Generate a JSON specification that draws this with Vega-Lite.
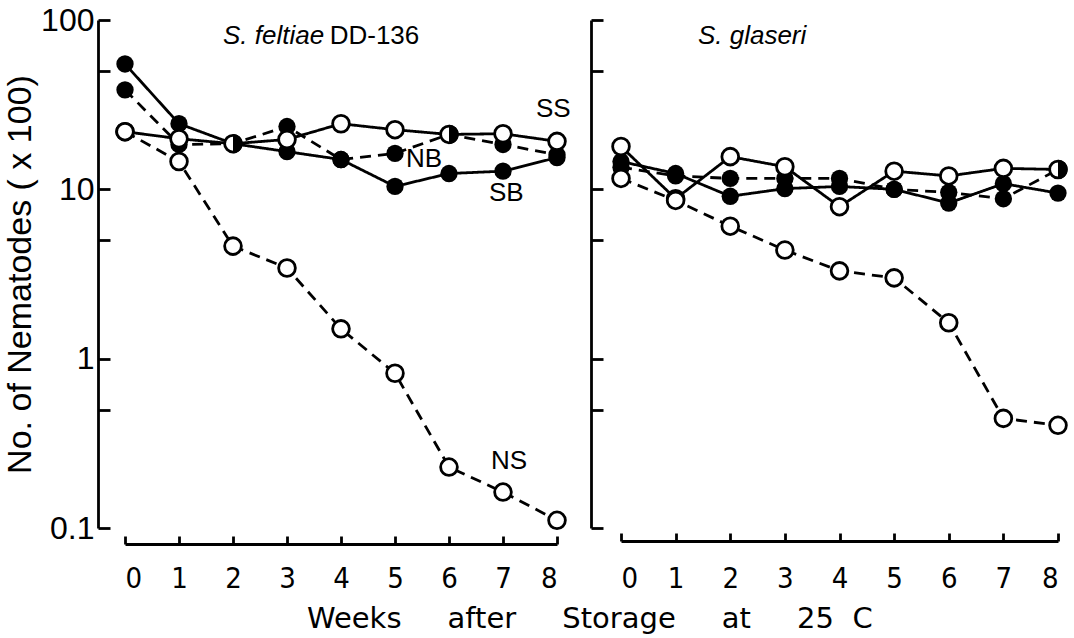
{
  "$schema": "https://vega.github.io/schema/vega-lite/v6.json",
  "background": "white",
  "padding": {"top": 4, "left": 3, "right": 4, "bottom": 4},
  "bounds": "flush",
  "spacing": 64,
  "config": {
    "view": {"stroke": null},
    "font": "Liberation Sans",
    "axis": {"grid": false, "domainColor": "black", "domainWidth": 2.8, "tickColor": "black", "tickWidth": 2.8, "labelColor": "black", "titleColor": "black"}
  },
  "title": {
    "text": "Weeks\u00a0\u00a0\u00a0\u00a0\u00a0after\u00a0\u00a0\u00a0\u00a0\u00a0Storage\u00a0\u00a0\u00a0\u00a0\u00a0at\u00a0\u00a0\u00a0\u00a0\u00a025\u00a0\u00a0C",
    "orient": "bottom",
    "anchor": "middle",
    "font": "DejaVu Sans",
    "fontSize": 29,
    "fontWeight": "normal",
    "color": "black",
    "offset": 12,
    "dx": 52
  },
  "datasets": {
    "counts": [
      {"species": "S. feltiae DD-136", "treatment": "SS", "week": 0, "value": 21.9},
      {"species": "S. feltiae DD-136", "treatment": "SS", "week": 1, "value": 19.9},
      {"species": "S. feltiae DD-136", "treatment": "SS", "week": 2, "value": 18.6},
      {"species": "S. feltiae DD-136", "treatment": "SS", "week": 3, "value": 19.7},
      {"species": "S. feltiae DD-136", "treatment": "SS", "week": 4, "value": 24.4},
      {"species": "S. feltiae DD-136", "treatment": "SS", "week": 5, "value": 22.5},
      {"species": "S. feltiae DD-136", "treatment": "SS", "week": 6, "value": 21.1},
      {"species": "S. feltiae DD-136", "treatment": "SS", "week": 7, "value": 21.3},
      {"species": "S. feltiae DD-136", "treatment": "SS", "week": 8, "value": 19.2},
      {"species": "S. feltiae DD-136", "treatment": "SB", "week": 0, "value": 55},
      {"species": "S. feltiae DD-136", "treatment": "SB", "week": 1, "value": 24.4},
      {"species": "S. feltiae DD-136", "treatment": "SB", "week": 2, "value": 18.6},
      {"species": "S. feltiae DD-136", "treatment": "SB", "week": 3, "value": 16.7},
      {"species": "S. feltiae DD-136", "treatment": "SB", "week": 4, "value": 15.0},
      {"species": "S. feltiae DD-136", "treatment": "SB", "week": 5, "value": 10.4},
      {"species": "S. feltiae DD-136", "treatment": "SB", "week": 6, "value": 12.4},
      {"species": "S. feltiae DD-136", "treatment": "SB", "week": 7, "value": 12.8},
      {"species": "S. feltiae DD-136", "treatment": "SB", "week": 8, "value": 15.4},
      {"species": "S. feltiae DD-136", "treatment": "NS", "week": 0, "value": 21.9},
      {"species": "S. feltiae DD-136", "treatment": "NS", "week": 1, "value": 14.6},
      {"species": "S. feltiae DD-136", "treatment": "NS", "week": 2, "value": 4.62},
      {"species": "S. feltiae DD-136", "treatment": "NS", "week": 3, "value": 3.43},
      {"species": "S. feltiae DD-136", "treatment": "NS", "week": 4, "value": 1.5},
      {"species": "S. feltiae DD-136", "treatment": "NS", "week": 5, "value": 0.82},
      {"species": "S. feltiae DD-136", "treatment": "NS", "week": 6, "value": 0.229},
      {"species": "S. feltiae DD-136", "treatment": "NS", "week": 7, "value": 0.163},
      {"species": "S. feltiae DD-136", "treatment": "NS", "week": 8, "value": 0.111},
      {"species": "S. feltiae DD-136", "treatment": "NB", "week": 0, "value": 38.7},
      {"species": "S. feltiae DD-136", "treatment": "NB", "week": 1, "value": 18.4},
      {"species": "S. feltiae DD-136", "treatment": "NB", "week": 2, "value": 18.6},
      {"species": "S. feltiae DD-136", "treatment": "NB", "week": 3, "value": 23.5},
      {"species": "S. feltiae DD-136", "treatment": "NB", "week": 4, "value": 15.0},
      {"species": "S. feltiae DD-136", "treatment": "NB", "week": 5, "value": 16.3},
      {"species": "S. feltiae DD-136", "treatment": "NB", "week": 6, "value": 21.1},
      {"species": "S. feltiae DD-136", "treatment": "NB", "week": 7, "value": 18.4},
      {"species": "S. feltiae DD-136", "treatment": "NB", "week": 8, "value": 16.0},
      {"species": "S. glaseri", "treatment": "SS", "week": 0, "value": 17.9},
      {"species": "S. glaseri", "treatment": "SS", "week": 1, "value": 8.8},
      {"species": "S. glaseri", "treatment": "SS", "week": 2, "value": 15.6},
      {"species": "S. glaseri", "treatment": "SS", "week": 3, "value": 13.6},
      {"species": "S. glaseri", "treatment": "SS", "week": 4, "value": 7.9},
      {"species": "S. glaseri", "treatment": "SS", "week": 5, "value": 12.8},
      {"species": "S. glaseri", "treatment": "SS", "week": 6, "value": 12.0},
      {"species": "S. glaseri", "treatment": "SS", "week": 7, "value": 13.3},
      {"species": "S. glaseri", "treatment": "SS", "week": 8, "value": 13.1},
      {"species": "S. glaseri", "treatment": "SB", "week": 0, "value": 14.6},
      {"species": "S. glaseri", "treatment": "SB", "week": 1, "value": 12.4},
      {"species": "S. glaseri", "treatment": "SB", "week": 2, "value": 9.1},
      {"species": "S. glaseri", "treatment": "SB", "week": 3, "value": 10.1},
      {"species": "S. glaseri", "treatment": "SB", "week": 4, "value": 10.4},
      {"species": "S. glaseri", "treatment": "SB", "week": 5, "value": 10.0},
      {"species": "S. glaseri", "treatment": "SB", "week": 6, "value": 8.3},
      {"species": "S. glaseri", "treatment": "SB", "week": 7, "value": 10.8},
      {"species": "S. glaseri", "treatment": "SB", "week": 8, "value": 9.5},
      {"species": "S. glaseri", "treatment": "NS", "week": 0, "value": 11.6},
      {"species": "S. glaseri", "treatment": "NS", "week": 1, "value": 8.6},
      {"species": "S. glaseri", "treatment": "NS", "week": 2, "value": 6.06},
      {"species": "S. glaseri", "treatment": "NS", "week": 3, "value": 4.38},
      {"species": "S. glaseri", "treatment": "NS", "week": 4, "value": 3.3},
      {"species": "S. glaseri", "treatment": "NS", "week": 5, "value": 3.0},
      {"species": "S. glaseri", "treatment": "NS", "week": 6, "value": 1.63},
      {"species": "S. glaseri", "treatment": "NS", "week": 7, "value": 0.444},
      {"species": "S. glaseri", "treatment": "NS", "week": 8, "value": 0.404},
      {"species": "S. glaseri", "treatment": "NB", "week": 0, "value": 13.5},
      {"species": "S. glaseri", "treatment": "NB", "week": 1, "value": 12.0},
      {"species": "S. glaseri", "treatment": "NB", "week": 2, "value": 11.6},
      {"species": "S. glaseri", "treatment": "NB", "week": 3, "value": 11.6},
      {"species": "S. glaseri", "treatment": "NB", "week": 4, "value": 11.6},
      {"species": "S. glaseri", "treatment": "NB", "week": 5, "value": 10.0},
      {"species": "S. glaseri", "treatment": "NB", "week": 6, "value": 9.6},
      {"species": "S. glaseri", "treatment": "NB", "week": 7, "value": 8.8},
      {"species": "S. glaseri", "treatment": "NB", "week": 8, "value": 13.1}
    ],
    "overlap": [
      {"species": "S. feltiae DD-136", "week": 2, "value": 18.6},
      {"species": "S. feltiae DD-136", "week": 6, "value": 21.1},
      {"species": "S. glaseri", "week": 8, "value": 13.1}
    ],
    "labels": [
      {"species": "S. feltiae DD-136", "week": 7.93, "value": 29.8, "text": "SS", "style": "normal"},
      {"species": "S. feltiae DD-136", "week": 5.54, "value": 15.1, "text": "NB", "style": "normal"},
      {"species": "S. feltiae DD-136", "week": 7.06, "value": 9.5, "text": "SB", "style": "normal"},
      {"species": "S. feltiae DD-136", "week": 7.11, "value": 0.248, "text": "NS", "style": "normal"},
      {"species": "S. feltiae DD-136", "week": 2.75, "value": 80, "text": "S. feltiae", "style": "italic"},
      {"species": "S. feltiae DD-136", "week": 4.62, "value": 80, "text": "DD-136", "style": "normal"},
      {"species": "S. glaseri", "week": 2.4, "value": 80, "text": "S. glaseri", "style": "italic"}
    ]
  },
  "hconcat": [
    {
      "width": 432,
      "height": 508,
      "encoding": {
        "x": {"field": "week", "type": "quantitative", "scale": {"domain": [0, 8], "nice": false, "zero": false},
          "axis": {"title": null, "values": [0, 1, 2, 3, 4, 5, 6, 7, 8], "format": "d", "offset": 16, "tickSize": -8, "labelPadding": 28, "labelFont": "DejaVu Sans Condensed, Liberation Sans", "labelFontSize": 29}},
        "y": {"field": "value", "type": "quantitative", "scale": {"type": "log", "domain": [0.1, 100], "nice": false},
          "axis": {"title": "No. of Nematodes ( x 100)", "values": [0.1, 0.5, 1, 5, 10, 50, 100], "format": "~g",
            "labelExpr": "indexof([0.1, 1, 10, 100], datum.value) >= 0 ? datum.label : ''",
            "offset": 27, "tickSize": -12, "labelPadding": 16, "labelFontSize": 32, "titleFontSize": 34, "titleFontWeight": "normal", "titlePadding": 3}}
      },
      "layer": [
        {
          "data": {"name": "counts"},
          "transform": [{"filter": "datum.species == 'S. feltiae DD-136'"}],
          "mark": {"type": "line", "strokeWidth": 2.8, "color": "black"},
          "encoding": {
            "detail": {"field": "treatment"},
            "strokeDash": {"field": "treatment", "scale": {"domain": ["SS", "SB", "NS", "NB"], "range": [[1, 0], [1, 0], [11, 7], [11, 7]]}, "legend": null}
          }
        },
        {
          "data": {"name": "counts"},
          "transform": [{"filter": "datum.species == 'S. feltiae DD-136' && (datum.treatment == 'SB' || datum.treatment == 'NB')"}],
          "mark": {"type": "point", "shape": "circle", "filled": true, "color": "black", "size": 300, "opacity": 1}
        },
        {
          "data": {"name": "counts"},
          "transform": [{"filter": "datum.species == 'S. feltiae DD-136' && (datum.treatment == 'SS' || datum.treatment == 'NS')"}],
          "mark": {"type": "point", "shape": "circle", "fill": "white", "stroke": "black", "strokeWidth": 2.8, "size": 280, "opacity": 1, "fillOpacity": 1}
        },
        {
          "data": {"name": "overlap"},
          "transform": [{"filter": "datum.species == 'S. feltiae DD-136'"}],
          "mark": {"type": "point", "shape": "M 0 -1 A 1 1 0 0 1 0 1 Z", "filled": true, "color": "black", "size": 370, "opacity": 1}
        },
        {
          "data": {"name": "labels"},
          "transform": [{"filter": "datum.species == 'S. feltiae DD-136' && datum.style == 'normal'"}],
          "mark": {"type": "text", "fontSize": 26, "color": "black", "baseline": "middle", "align": "center"},
          "encoding": {"text": {"field": "text"}}
        },
        {
          "data": {"name": "labels"},
          "transform": [{"filter": "datum.species == 'S. feltiae DD-136' && datum.style == 'italic'"}],
          "mark": {"type": "text", "fontSize": 26, "fontStyle": "italic", "color": "black", "baseline": "middle", "align": "center"},
          "encoding": {"text": {"field": "text"}}
        }
      ]
    },
    {
      "width": 437,
      "height": 508,
      "encoding": {
        "x": {"field": "week", "type": "quantitative", "scale": {"domain": [0, 8], "nice": false, "zero": false},
          "axis": {"title": null, "values": [0, 1, 2, 3, 4, 5, 6, 7, 8], "format": "d", "offset": 13, "tickSize": -8, "labelPadding": 31, "labelFont": "DejaVu Sans Condensed, Liberation Sans", "labelFontSize": 29}},
        "y": {"field": "value", "type": "quantitative", "scale": {"type": "log", "domain": [0.1, 100], "nice": false},
          "axis": {"title": null, "values": [0.1, 0.5, 1, 5, 10, 50, 100], "labels": false, "offset": 30, "tickSize": -12}}
      },
      "layer": [
        {
          "data": {"name": "counts"},
          "transform": [{"filter": "datum.species == 'S. glaseri'"}],
          "mark": {"type": "line", "strokeWidth": 2.8, "color": "black"},
          "encoding": {
            "detail": {"field": "treatment"},
            "strokeDash": {"field": "treatment", "scale": {"domain": ["SS", "SB", "NS", "NB"], "range": [[1, 0], [1, 0], [11, 7], [11, 7]]}, "legend": null}
          }
        },
        {
          "data": {"name": "counts"},
          "transform": [{"filter": "datum.species == 'S. glaseri' && (datum.treatment == 'SB' || datum.treatment == 'NB')"}],
          "mark": {"type": "point", "shape": "circle", "filled": true, "color": "black", "size": 300, "opacity": 1}
        },
        {
          "data": {"name": "counts"},
          "transform": [{"filter": "datum.species == 'S. glaseri' && (datum.treatment == 'SS' || datum.treatment == 'NS')"}],
          "mark": {"type": "point", "shape": "circle", "fill": "white", "stroke": "black", "strokeWidth": 2.8, "size": 280, "opacity": 1, "fillOpacity": 1}
        },
        {
          "data": {"name": "overlap"},
          "transform": [{"filter": "datum.species == 'S. glaseri'"}],
          "mark": {"type": "point", "shape": "M 0 -1 A 1 1 0 0 1 0 1 Z", "filled": true, "color": "black", "size": 370, "opacity": 1}
        },
        {
          "data": {"name": "labels"},
          "transform": [{"filter": "datum.species == 'S. glaseri' && datum.style == 'italic'"}],
          "mark": {"type": "text", "fontSize": 26, "fontStyle": "italic", "color": "black", "baseline": "middle", "align": "center"},
          "encoding": {"text": {"field": "text"}}
        }
      ]
    }
  ]
}
